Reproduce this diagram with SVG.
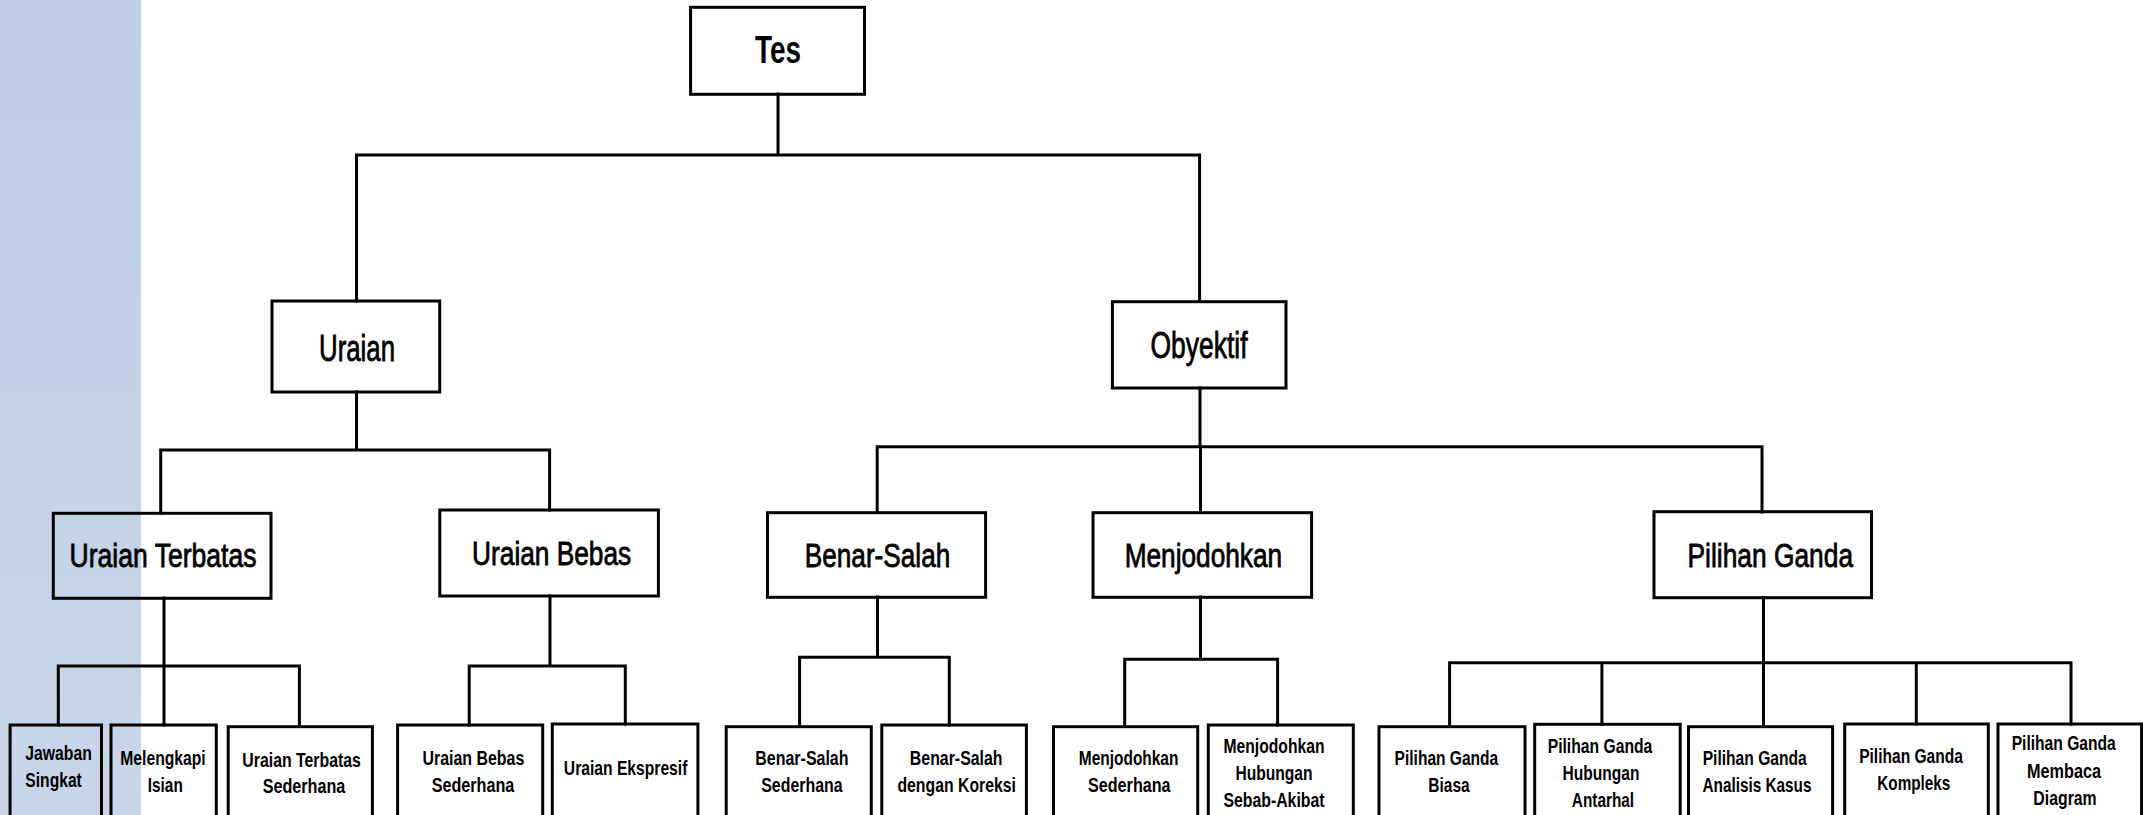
<svg xmlns="http://www.w3.org/2000/svg" width="2143" height="815" viewBox="0 0 2143 815">
<style>
.bx{fill:none;stroke:#000;stroke-width:3}
.cn{fill:none;stroke:#000;stroke-width:3;stroke-linecap:square}
text{font-family:"Liberation Sans",Arial,sans-serif;fill:#000;text-anchor:middle}
.t0{font-size:39px;font-weight:bold}
.t1{font-size:36px;stroke:#000;stroke-width:0.8}
.t2{font-size:33px;stroke:#000;stroke-width:0.8}
.t3{font-size:21px;font-weight:bold}
</style>
<defs>
<linearGradient id="band" x1="0" y1="0" x2="0" y2="1">
<stop offset="0" stop-color="#bccfe6"/>
<stop offset="1" stop-color="#c7d6ea"/>
</linearGradient>
</defs>
<rect width="2143" height="815" fill="#fff"/>
<rect x="0" y="0" width="141" height="815" fill="url(#band)"/>
<g id="connectors">
<path class="cn" d="M778 94V155M356.5 155H1199.6M356.5 155V301M1199.6 155V301"/>
<path class="cn" d="M356.5 392V450M160.7 450H549.6M160.7 450V513M549.6 450V510"/>
<path class="cn" d="M1200 388V446.7M877.2 446.7H1762M877.2 446.7V512M1200.5 446.7V512M1762 446.7V512"/>
<path class="cn" d="M164 598V666M58.3 666H299.4M58.3 666V725M164 666V725M299.4 666V726"/>
<path class="cn" d="M550 596V666M469.2 666H625.3M469.2 666V725M625.3 666V724"/>
<path class="cn" d="M877.5 597V657.3M799.6 657.3H949.3M799.6 657.3V726M949.3 657.3V725"/>
<path class="cn" d="M1200.5 597V659.3M1124.7 659.3H1277.6M1124.7 659.3V726M1277.6 659.3V725"/>
<path class="cn" d="M1763.5 597.7V662.7M1449.6 662.7H2071M1449.6 662.7V726M1601.9 662.7V724M1763.5 662.7V726M1916.3 662.7V724M2071 662.7V724"/>
</g>
<g id="n-tes"><rect class="bx" x="690.6" y="7.3" width="173.9" height="87"/><text class="t0" x="778" y="63" textLength="46" lengthAdjust="spacingAndGlyphs">Tes</text></g>
<g id="n-uraian"><rect class="bx" x="272" y="301" width="167.7" height="91"/><text class="t1" x="357" y="361" textLength="76" lengthAdjust="spacingAndGlyphs">Uraian</text></g>
<g id="n-obyektif"><rect class="bx" x="1112.4" y="301.7" width="173.6" height="86.3"/><text class="t1" x="1199" y="358" textLength="97" lengthAdjust="spacingAndGlyphs">Obyektif</text></g>
<g id="n-uraian-terbatas"><rect class="bx" x="53.3" y="513.3" width="217.7" height="85"/><text class="t2" x="163" y="566.7" textLength="187" lengthAdjust="spacingAndGlyphs">Uraian Terbatas</text></g>
<g id="n-uraian-bebas"><rect class="bx" x="439.8" y="510" width="218.6" height="86"/><text class="t2" x="551.6" y="565" textLength="159" lengthAdjust="spacingAndGlyphs">Uraian Bebas</text></g>
<g id="n-benar-salah"><rect class="bx" x="767.5" y="512.7" width="218.1" height="84.6"/><text class="t2" x="877.5" y="566.7" textLength="145.5" lengthAdjust="spacingAndGlyphs">Benar-Salah</text></g>
<g id="n-menjodohkan"><rect class="bx" x="1093" y="512.7" width="218.6" height="84.6"/><text class="t2" x="1203.4" y="566.7" textLength="157.5" lengthAdjust="spacingAndGlyphs">Menjodohkan</text></g>
<g id="n-pilihan-ganda"><rect class="bx" x="1654" y="511.7" width="217.5" height="86"/><text class="t2" x="1770.3" y="566.7" textLength="165.5" lengthAdjust="spacingAndGlyphs">Pilihan Ganda</text></g>
<g id="n-jawaban-singkat"><rect class="bx" x="10.1" y="725" width="91.4" height="105"/><text class="t3" x="25.3" y="760" style="text-anchor:start" textLength="66.6" lengthAdjust="spacingAndGlyphs">Jawaban</text><text class="t3" x="25.3" y="786.7" style="text-anchor:start" textLength="56.5" lengthAdjust="spacingAndGlyphs">Singkat</text></g>
<g id="n-melengkapi-isian"><rect class="bx" x="111" y="725" width="105.3" height="105"/><text class="t3" x="163" y="765" textLength="85.4" lengthAdjust="spacingAndGlyphs">Melengkapi</text><text class="t3" x="165.3" y="791.7" textLength="34.9" lengthAdjust="spacingAndGlyphs">Isian</text></g>
<g id="n-uraian-terbatas-sederhana"><rect class="bx" x="228.2" y="726.7" width="144.2" height="105"/><text class="t3" x="301.6" y="766.7" textLength="118.5" lengthAdjust="spacingAndGlyphs">Uraian Terbatas</text><text class="t3" x="304" y="793.3" textLength="82.6" lengthAdjust="spacingAndGlyphs">Sederhana</text></g>
<g id="n-uraian-bebas-sederhana"><rect class="bx" x="397.6" y="725" width="145.1" height="105"/><text class="t3" x="473.4" y="765" textLength="101.9" lengthAdjust="spacingAndGlyphs">Uraian Bebas</text><text class="t3" x="473" y="791.7" textLength="82.6" lengthAdjust="spacingAndGlyphs">Sederhana</text></g>
<g id="n-uraian-ekspresif"><rect class="bx" x="552.3" y="724" width="145.6" height="105"/><text class="t3" x="625.6" y="775" textLength="123.5" lengthAdjust="spacingAndGlyphs">Uraian Ekspresif</text></g>
<g id="n-bs-sederhana"><rect class="bx" x="726.2" y="726.7" width="145.1" height="105"/><text class="t3" x="801.9" y="765" textLength="93.2" lengthAdjust="spacingAndGlyphs">Benar-Salah</text><text class="t3" x="801.9" y="791.7" textLength="81.3" lengthAdjust="spacingAndGlyphs">Sederhana</text></g>
<g id="n-bs-koreksi"><rect class="bx" x="881.8" y="725" width="144.6" height="105"/><text class="t3" x="956.2" y="765" textLength="92.7" lengthAdjust="spacingAndGlyphs">Benar-Salah</text><text class="t3" x="956.7" y="791.7" textLength="118.5" lengthAdjust="spacingAndGlyphs">dengan Koreksi</text></g>
<g id="n-menjodohkan-sederhana"><rect class="bx" x="1053.5" y="726.7" width="144.2" height="105"/><text class="t3" x="1128.6" y="765" textLength="99.6" lengthAdjust="spacingAndGlyphs">Menjodohkan</text><text class="t3" x="1129.3" y="791.7" textLength="82.6" lengthAdjust="spacingAndGlyphs">Sederhana</text></g>
<g id="n-menjodohkan-hubungan"><rect class="bx" x="1208.3" y="725" width="145" height="105"/><text class="t3" x="1274" y="753.3" textLength="101" lengthAdjust="spacingAndGlyphs">Menjodohkan</text><text class="t3" x="1274" y="780" textLength="77.1" lengthAdjust="spacingAndGlyphs">Hubungan</text><text class="t3" x="1274" y="806.7" textLength="101" lengthAdjust="spacingAndGlyphs">Sebab-Akibat</text></g>
<g id="n-pg-biasa"><rect class="bx" x="1379" y="726.7" width="146" height="105"/><text class="t3" x="1446.4" y="765" textLength="103.6" lengthAdjust="spacingAndGlyphs">Pilihan Ganda</text><text class="t3" x="1449" y="791.7" textLength="41.4" lengthAdjust="spacingAndGlyphs">Biasa</text></g>
<g id="n-pg-hubungan"><rect class="bx" x="1534.7" y="724.3" width="145.5" height="105"/><text class="t3" x="1600" y="753.3" textLength="104.6" lengthAdjust="spacingAndGlyphs">Pilihan Ganda</text><text class="t3" x="1601" y="780" textLength="76.9" lengthAdjust="spacingAndGlyphs">Hubungan</text><text class="t3" x="1603" y="806.7" textLength="62.3" lengthAdjust="spacingAndGlyphs">Antarhal</text></g>
<g id="n-pg-analisis"><rect class="bx" x="1688.5" y="726.7" width="144.1" height="105"/><text class="t3" x="1754.7" y="765" textLength="104.1" lengthAdjust="spacingAndGlyphs">Pilihan Ganda</text><text class="t3" x="1757" y="791.7" textLength="109" lengthAdjust="spacingAndGlyphs">Analisis Kasus</text></g>
<g id="n-pg-kompleks"><rect class="bx" x="1844.7" y="724" width="143.6" height="105"/><text class="t3" x="1911" y="763.3" textLength="103.6" lengthAdjust="spacingAndGlyphs">Pilihan Ganda</text><text class="t3" x="1913.8" y="790" textLength="73" lengthAdjust="spacingAndGlyphs">Kompleks</text></g>
<g id="n-pg-membaca"><rect class="bx" x="1998" y="724" width="143.6" height="105"/><text class="t3" x="2063.7" y="750" textLength="104.1" lengthAdjust="spacingAndGlyphs">Pilihan Ganda</text><text class="t3" x="2064" y="778.3" textLength="74" lengthAdjust="spacingAndGlyphs">Membaca</text><text class="t3" x="2065" y="805" textLength="63.3" lengthAdjust="spacingAndGlyphs">Diagram</text></g>
</svg>
